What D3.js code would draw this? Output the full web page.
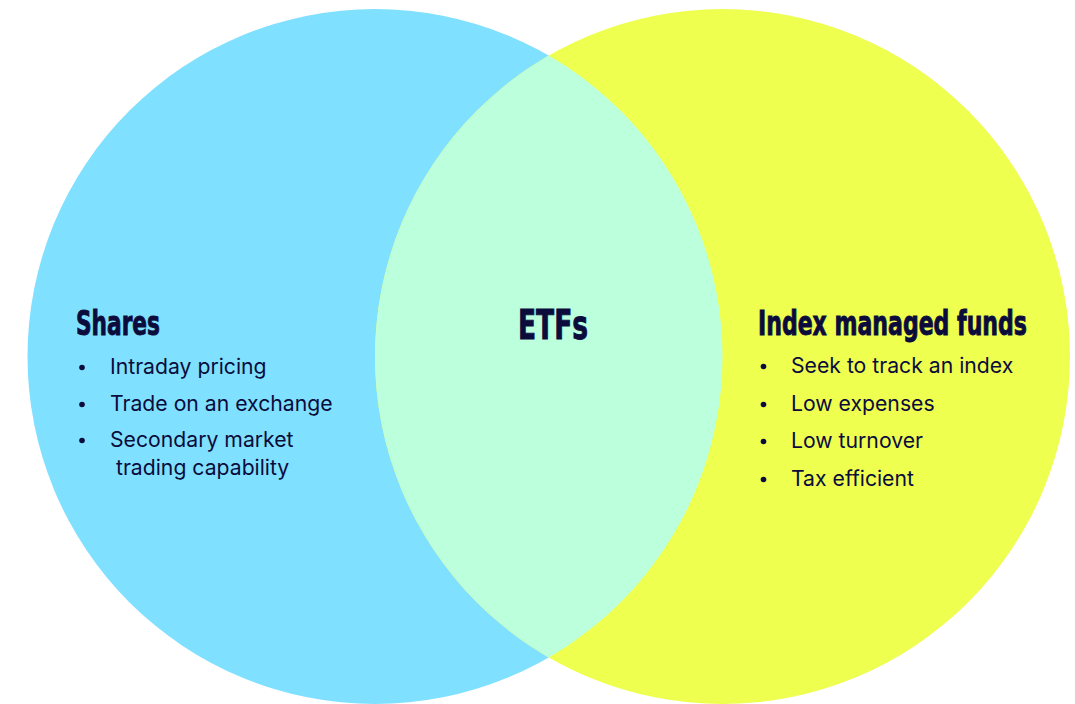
<!DOCTYPE html>
<html>
<head>
<meta charset="utf-8">
<script src="https://cdn.jsdelivr.net/npm/d3@7"></script>
<style>
  html, body { margin: 0; padding: 0; background: #fff; }
  .title { font-family: "DejaVu Sans Condensed", "Liberation Sans Narrow", sans-serif; font-weight: bold; fill: #0b0c3c; stroke: #0b0c3c; stroke-width: 0.9px; }
  .item { font-family: Inter, "Noto Sans", sans-serif; font-size: 21.2px; fill: #0b0c3c; }
</style>
</head>
<body>
<svg class="chart"></svg>
<script>
// sets and their labels
var setNames = ["Shares", "Index managed funds"];
var overlapName = "ETFs";
var sharesItems = ["Intraday pricing", "Trade on an exchange", ["Secondary market", " trading capability"]];
var indexItems = ["Seek to track an index", "Low expenses", "Low turnover", "Tax efficient"];
var setColors = ["#80e0ff", "#eeff4f"];
var overlapColor = "#bcffdd";

var width = 1075, height = 704;
var r = 347.5, cy = 356.5;

var svg = d3.select(".chart")
  .attr("width", width)
  .attr("height", height);

// x scale over set index -> circle centre
var x = d3.scaleLinear().domain([0, 1]).range([375, 722.5]);

var defs = svg.append("defs");
defs.append("clipPath").attr("id", "clipLeft")
  .append("circle").attr("cx", x(0)).attr("cy", cy).attr("r", r);

svg.selectAll("circle.set")
  .data(setNames)
  .enter().append("circle")
  .attr("class", "set")
  .attr("cx", function(d, i) { return x(i); })
  .attr("cy", cy)
  .attr("r", r)
  .attr("fill", function(d, i) { return setColors[i]; });

// overlap region
svg.append("circle")
  .attr("cx", x(1)).attr("cy", cy).attr("r", r)
  .attr("clip-path", "url(#clipLeft)")
  .attr("fill", overlapColor);

// titles, squeezed horizontally to the condensed look
var titles = [
  {text: setNames[0], x: 76, y: 335, size: 34, len: 84},
  {text: overlapName, x: 518, y: 339, size: 40, len: 70},
  {text: setNames[1], x: 758, y: 335, size: 34, len: 269}
];
svg.selectAll("text.title")
  .data(titles)
  .enter().append("text")
  .attr("class", "title")
  .attr("font-size", function(d) { return d.size; })
  .text(function(d) { return d.text; })
  .attr("transform", function(d) {
    var w = this.getComputedTextLength();
    return "translate(" + d.x + "," + d.y + ") scale(" + (d.len / w) + ",1)";
  });

// bullet lists
function drawList(items, bx, tx, baselines) {
  var g = svg.append("g");
  items.forEach(function(it, i) {
    var lines = Array.isArray(it) ? it : [it];
    g.append("circle")
      .attr("cx", bx).attr("cy", baselines[i] - 6.5).attr("r", 2.8)
      .attr("fill", "#0b0c3c");
    lines.forEach(function(l, j) {
      g.append("text")
        .attr("class", "item")
        .attr("x", tx)
        .attr("y", baselines[i] + j * 28)
        .attr("xml:space", "preserve")
        .style("white-space", "pre")
        .text(l);
    });
  });
}
drawList(sharesItems, 82, 110, [374, 411, 447]);
drawList(indexItems, 763.5, 791, [373, 411, 448, 486]);
</script>
</body>
</html>
